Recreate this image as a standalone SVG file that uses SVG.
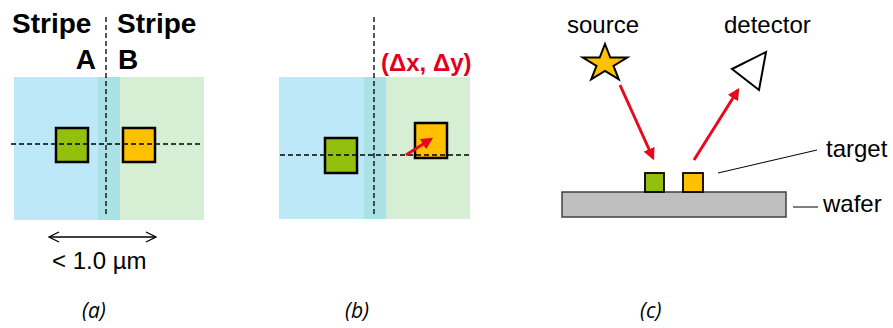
<svg xmlns="http://www.w3.org/2000/svg" width="893" height="328" viewBox="0 0 893 328">
<style>
.t{font-family:"Liberation Sans",Arial,sans-serif;fill:#000}
.b{font-weight:bold}
.cap{font-family:"Open Sans","Liberation Sans",sans-serif;font-style:italic;font-size:21px;fill:#000}
.dash{stroke:#000;stroke-width:1.3;stroke-dasharray:5 3;fill:none}
.sq{stroke:#000;stroke-width:2.5}
.red{stroke:#E8091C;stroke-width:3;fill:none}
</style>
<defs>
<marker id="rh" viewBox="0 0 10 10" refX="8" refY="5" markerWidth="4" markerHeight="4" orient="auto" markerUnits="strokeWidth">
<path d="M0,0 L10,5 L0,10 z" fill="#E8091C"/>
</marker>
<marker id="oh" viewBox="0 0 12 12" refX="11" refY="6" markerWidth="12" markerHeight="12" orient="auto-start-reverse" markerUnits="userSpaceOnUse">
<path d="M1,1 L11,6 L1,11" fill="none" stroke="#000" stroke-width="1.3"/>
</marker>
</defs>

<!-- Panel a -->
<g id="panel-a">
<rect x="14" y="77" width="84" height="143" fill="#BDE8F7"/>
<rect x="98" y="77" width="22" height="143" fill="#A9E1E5"/>
<rect x="120" y="77" width="84" height="143" fill="#D6EFD4"/>
<rect class="sq" x="56" y="128" width="32" height="34" fill="#92C00C"/>
<rect class="sq" x="123" y="128" width="32" height="34" fill="#FFC000"/>
<line class="dash" x1="11" y1="144" x2="201" y2="144"/>
<line class="dash" x1="106" y1="17" x2="106" y2="217"/>
<text class="t b" x="12" y="33" font-size="28">Stripe</text>
<text class="t b" x="117" y="33" font-size="28">Stripe</text>
<text class="t b" x="96" y="69" font-size="28" text-anchor="end">A</text>
<text class="t b" x="118" y="69" font-size="28">B</text>
<line x1="49" y1="237" x2="156" y2="237" stroke="#000" stroke-width="1.3" marker-start="url(#oh)" marker-end="url(#oh)"/>
<text class="t" x="52" y="269" font-size="24">&lt; 1.0 µm</text>
<text class="cap" x="82" y="318">(a)</text>
</g>

<!-- Panel b -->
<g id="panel-b">
<rect x="279" y="77" width="85" height="142" fill="#BDE8F7"/>
<rect x="364" y="77" width="22" height="142" fill="#A9E1E5"/>
<rect x="386" y="77" width="84" height="142" fill="#D6EFD4"/>
<rect class="sq" x="325" y="138" width="32" height="35" fill="#92C00C"/>
<rect class="sq" x="415" y="123" width="32" height="35" fill="#FFC000"/>
<line class="dash" x1="280" y1="155" x2="470" y2="155"/>
<line class="dash" x1="374" y1="17" x2="374" y2="217"/>
<line class="red" x1="406" y1="155" x2="431" y2="139" marker-end="url(#rh)"/>
<text class="t b" x="381" y="71" font-size="24" style="fill:#E3001B">(Δx, Δy)</text>
<text class="cap" x="345" y="318">(b)</text>
</g>

<!-- Panel c -->
<g id="panel-c">
<rect x="562" y="192" width="224" height="25" fill="#BFBFBF" stroke="#404040" stroke-width="1.5"/>
<rect x="645" y="173" width="19" height="19" fill="#92C00C" stroke="#000" stroke-width="1.8"/>
<rect x="683" y="173" width="20" height="19" fill="#FFC000" stroke="#000" stroke-width="1.8"/>
<polygon points="605,44 610.3,57.5 627.2,57.5 613.5,65.8 618.8,79.3 605,71 591.2,79.3 596.5,65.8 582.8,57.5 599.7,57.5" fill="#FFC000" stroke="#000" stroke-width="2" stroke-linejoin="miter"/>
<polygon points="732,69 766,52 759,90" fill="#fff" stroke="#000" stroke-width="2"/>
<line class="red" x1="620" y1="85" x2="653" y2="158" marker-end="url(#rh)"/>
<line class="red" x1="694" y1="160" x2="738" y2="90" marker-end="url(#rh)"/>
<line x1="718" y1="173" x2="817" y2="150" stroke="#000" stroke-width="1"/>
<line x1="793" y1="207" x2="818" y2="207" stroke="#000" stroke-width="1"/>
<text class="t" x="567" y="33" font-size="24">source</text>
<text class="t" x="724" y="33" font-size="24">detector</text>
<text class="t" x="826" y="157" font-size="24">target</text>
<text class="t" x="823" y="212" font-size="24">wafer</text>
<text class="cap" x="640" y="318">(c)</text>
</g>
</svg>
